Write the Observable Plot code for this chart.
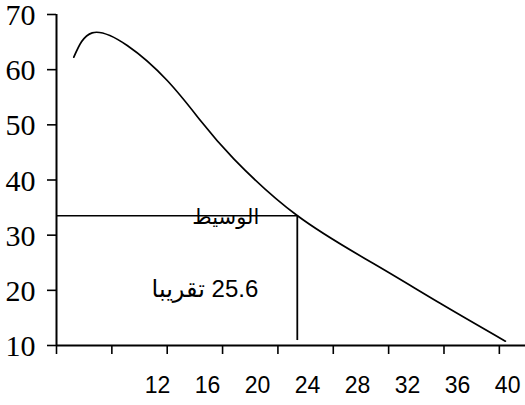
<!DOCTYPE html>
<html>
<head>
<meta charset="utf-8">
<script src="https://cdn.jsdelivr.net/npm/d3@7"></script>
<script src="https://cdn.jsdelivr.net/npm/@observablehq/plot@0.6"></script>
<style>
  html, body { margin: 0; padding: 0; background: #fff; }
  svg { display: block; }
</style>
</head>
<body>
<div id="chart"></div>
<script>
// Tick values
const xTicks = [8, 12, 16, 20, 24, 28, 32, 36, 40];
const xLabels = [12, 16, 20, 24, 28, 32, 36, 40];
const yTicks = [10, 20, 30, 40, 50, 60, 70];

// Descending ogive
const curveX = [9.25, 10.58, 13.11, 16.0, 18.4, 20.81, 25.39, 30.9, 35.75, 40.44];
const curveY = [62.26, 66.68, 64.38, 58.03, 50.78, 43.84, 33.56, 24.86, 17.61, 10.78];

// Median
const medianX = 25.4;
const medianY = 33.5;
const medianBottom = 10.9;
const medianLabel = "الوسيط";
const valueLabel = "25.6 تقريبا";
const valueLabelY = 20.1;

const points = curveX.map((x, i) => ({x, y: curveY[i]}));

// The x tick labels are a typed row that drifts from the tick marks
const labelRow = d3.scaleLinear().domain([12, 40]).range([15.3, 40.6]);

const chart = Plot.plot({
  width: 525,
  height: 405,
  marginLeft: 56,
  marginRight: 0,
  marginTop: 14,
  marginBottom: 60,
  style: {background: "#fff", color: "#000"},
  x: {domain: [8, 41.89]},
  y: {domain: [10, 70]},
  marks: [
    Plot.axisY({ticks: yTicks, tickSize: 9, label: null, strokeWidth: 1.6, tickFormat: () => ""}),
    Plot.axisX({ticks: xTicks, tickSize: 9, label: null, strokeWidth: 1.6, tickFormat: () => ""}),
    Plot.ruleX([8], {stroke: "#000", strokeWidth: 2}),
    Plot.ruleY([10], {stroke: "#000", strokeWidth: 2}),
    Plot.line(points, {x: "x", y: "y", curve: "natural", stroke: "#000", strokeWidth: 1.7}),
    Plot.ruleY([medianY], {x1: 8, x2: medianX, stroke: "#000", strokeWidth: 1.5}),
    Plot.ruleX([medianX], {y1: medianBottom, y2: medianY, stroke: "#000", strokeWidth: 1.8}),
    Plot.text(yTicks, {x: 8, y: d => d, dx: -21, dy: 1, text: d => String(d), textAnchor: "end",
      fontSize: 30, fontFamily: "Liberation Serif", fill: "#000", ariaLabel: "ylabels"}),
    Plot.text(xLabels, {x: d => labelRow(d), y: 10, dy: 40, text: d => String(d),
      fontSize: 23, fontFamily: "Liberation Sans", fill: "#000"}),
    Plot.text([medianLabel], {x: medianX, y: medianY, dx: -38, dy: 1, text: d => d,
      textAnchor: "end", fontSize: 21, fontFamily: "Liberation Sans, DejaVu Sans", fill: "#000"}),
    Plot.text([valueLabel], {x: medianX, y: valueLabelY, dx: -39, text: d => d,
      textAnchor: "end", fontSize: 24, fontFamily: "Liberation Sans, DejaVu Sans", fill: "#000"})
  ]
});

// Tall, narrow serif figures on the y axis
chart.querySelectorAll('g[aria-label="ylabels"] text').forEach(t => {
  t.setAttribute("textLength", 23);
  t.setAttribute("lengthAdjust", "spacingAndGlyphs");
});

// Right-to-left reading order for the Arabic annotation
chart.querySelectorAll("text").forEach(t => {
  if (t.textContent === valueLabel || t.textContent === medianLabel) {
    t.setAttribute("direction", "rtl");
    t.style.direction = "rtl";
    t.style.unicodeBidi = "embed";
    t.setAttribute("text-anchor", "start");
  }
});

document.getElementById("chart").appendChild(chart);
</script>
</body>
</html>
